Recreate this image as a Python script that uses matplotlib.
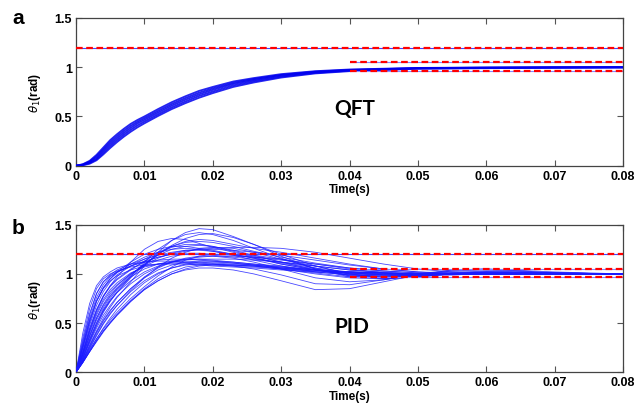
import matplotlib
matplotlib.use("Agg")
import matplotlib.pyplot as plt

# ---------------- data ----------------
T_QFT = [0, .001, .002, .003, .004, .005, .006, .007, .008, .009, .010, .012, .014,
         .016, .018, .020, .023, .026, .030, .035, .040, .050, .060, .070, .080]
QFT_CURVES = [
    [0, .015, .05, .11, .185, .26, .32, .375, .425, .465, .50, .575, .645, .705, .76, .80, .855, .89, .93, .96, .977, .993, .997, .999, 1.0],
    [0, .012, .042, .095, .167, .24, .30, .355, .405, .447, .483, .557, .627, .687, .742, .785, .842, .88, .922, .955, .973, .991, .996, .998, 1.0],
    [0, .010, .035, .08, .15, .22, .28, .335, .385, .43, .466, .54, .61, .67, .725, .77, .83, .87, .915, .95, .97, .99, .995, .998, 1.0],
    [0, .007, .027, .066, .132, .20, .26, .315, .365, .41, .448, .522, .592, .652, .708, .753, .815, .858, .905, .943, .965, .987, .993, .997, .999],
    [0, .005, .02, .055, .115, .18, .24, .295, .345, .39, .43, .505, .575, .635, .69, .737, .80, .845, .895, .937, .96, .984, .99, .995, .998],
]

T_PID = [0, .001, .002, .003, .004, .005, .006, .008, .010, .012, .014, .016, .018,
         .020, .023, .026, .030, .035, .040, .045, .050, .055, .060, .070, .080]
PID_CURVES = [
    [0, .35, .65, .85, .95, 1.0, 1.03, 1.07, 1.09, 1.10, 1.10, 1.10, 1.09, 1.08, 1.07, 1.06, 1.04, 1.02, 1.01, 1.0, 1.0, 1.0, 1.0, 1.0, 1.0],
    [0, .30, .58, .80, .92, .98, 1.02, 1.08, 1.12, 1.14, 1.15, 1.15, 1.14, 1.13, 1.11, 1.09, 1.06, 1.03, 1.01, 1.0, 1.0, 1.0, 1.0, 1.0, 1.0],
    [0, .25, .50, .72, .86, .95, 1.02, 1.12, 1.20, 1.25, 1.28, 1.28, 1.26, 1.24, 1.20, 1.16, 1.10, 1.04, 1.0, .99, .99, 1.0, 1.01, 1.0, 1.0],
    [0, .12, .28, .42, .55, .66, .76, .92, 1.08, 1.22, 1.34, 1.42, 1.46, 1.45, 1.38, 1.30, 1.20, 1.08, 1.0, .96, .97, 1.0, 1.02, 1.01, 1.0],
    [0, .15, .32, .48, .62, .73, .82, .97, 1.12, 1.25, 1.34, 1.40, 1.42, 1.40, 1.34, 1.26, 1.16, 1.05, .98, .97, .99, 1.01, 1.01, 1.0, 1.0],
    [0, .18, .38, .55, .68, .78, .86, .99, 1.10, 1.20, 1.28, 1.33, 1.35, 1.34, 1.30, 1.26, 1.22, 1.16, 1.10, 1.05, 1.02, 1.0, 1.0, 1.0, 1.0],
    [0, .10, .21, .32, .42, .50, .58, .72, .84, .93, 1.0, 1.04, 1.06, 1.06, 1.04, 1.0, .93, .84, .85, .92, .99, 1.04, 1.05, 1.01, 1.0],
    [0, .10, .21, .32, .42, .51, .59, .73, .85, .95, 1.02, 1.07, 1.09, 1.10, 1.08, 1.05, .99, .90, .89, .94, 1.0, 1.04, 1.05, 1.02, 1.0],
    [0, .12, .25, .38, .50, .60, .68, .82, .93, 1.01, 1.06, 1.09, 1.10, 1.10, 1.09, 1.08, 1.05, 1.01, .97, .96, .98, 1.0, 1.01, 1.0, 1.0],
    [0, .20, .42, .60, .74, .84, .91, 1.01, 1.07, 1.10, 1.12, 1.12, 1.12, 1.11, 1.10, 1.09, 1.07, 1.04, 1.02, 1.01, 1.0, 1.0, 1.0, 1.0, 1.0],
    [0, .22, .45, .64, .78, .88, .95, 1.05, 1.12, 1.17, 1.20, 1.21, 1.21, 1.20, 1.19, 1.17, 1.14, 1.10, 1.06, 1.03, 1.01, 1.0, 1.0, 1.0, 1.0],
    [0, .14, .30, .45, .58, .68, .77, .90, 1.00, 1.07, 1.12, 1.15, 1.17, 1.18, 1.18, 1.17, 1.15, 1.10, 1.05, 1.01, .99, .99, 1.0, 1.0, 1.0],
    [0, .28, .55, .76, .89, .97, 1.02, 1.08, 1.13, 1.17, 1.20, 1.23, 1.25, 1.26, 1.27, 1.27, 1.26, 1.22, 1.16, 1.10, 1.05, 1.02, 1.01, 1.0, 1.0],
    [0, .10, .22, .34, .45, .55, .64, .79, .91, 1.00, 1.06, 1.10, 1.12, 1.12, 1.11, 1.09, 1.06, 1.02, .99, .98, .99, 1.0, 1.0, 1.0, 1.0],
    [0, .16, .34, .50, .64, .75, .84, .98, 1.10, 1.19, 1.25, 1.28, 1.29, 1.28, 1.24, 1.19, 1.12, 1.04, .99, .97, .98, 1.0, 1.01, 1.0, 1.0],
    [0, .24, .48, .68, .82, .92, .99, 1.08, 1.15, 1.22, 1.28, 1.32, 1.33, 1.32, 1.28, 1.23, 1.17, 1.11, 1.06, 1.03, 1.01, 1.0, 1.0, 1.0, 1.0],
    [0, .10, .21, .31, .41, .50, .58, .72, .84, .93, 1.0, 1.05, 1.08, 1.09, 1.09, 1.08, 1.05, 1.0, .96, .95, .97, 1.0, 1.02, 1.01, 1.0],
    [0, .19, .40, .58, .72, .82, .89, 1.0, 1.08, 1.14, 1.18, 1.20, 1.20, 1.19, 1.17, 1.15, 1.12, 1.08, 1.04, 1.02, 1.0, 1.0, 1.0, 1.0, 1.0],
    [0, .13, .27, .41, .53, .63, .71, .85, .96, 1.04, 1.09, 1.12, 1.13, 1.13, 1.12, 1.10, 1.08, 1.04, 1.01, .99, .99, 1.0, 1.0, 1.0, 1.0],
    [0, .32, .60, .80, .92, .99, 1.04, 1.10, 1.15, 1.19, 1.22, 1.24, 1.24, 1.23, 1.20, 1.16, 1.11, 1.05, 1.01, .99, .99, 1.0, 1.0, 1.0, 1.0],
    [0, .11, .23, .34, .44, .53, .61, .75, .87, .98, 1.07, 1.14, 1.18, 1.20, 1.20, 1.19, 1.15, 1.08, 1.0, .96, .97, 1.0, 1.02, 1.01, 1.0],
    [0, .17, .36, .53, .66, .77, .85, .97, 1.05, 1.10, 1.13, 1.15, 1.15, 1.14, 1.12, 1.10, 1.07, 1.04, 1.02, 1.01, 1.0, 1.0, 1.0, 1.0, 1.0],
    [0, .11, .24, .37, .49, .59, .68, .83, .96, 1.07, 1.16, 1.22, 1.26, 1.27, 1.26, 1.22, 1.15, 1.06, .98, .95, .97, 1.01, 1.03, 1.01, 1.0],
    [0, .26, .52, .72, .85, .93, .98, 1.04, 1.08, 1.10, 1.11, 1.11, 1.10, 1.09, 1.08, 1.07, 1.05, 1.03, 1.02, 1.01, 1.0, 1.0, 1.0, 1.0, 1.0],
    [0, .20, .42, .62, .77, .88, .97, 1.12, 1.25, 1.33, 1.36, 1.35, 1.31, 1.27, 1.22, 1.17, 1.10, 1.04, 1.0, .99, 1.0, 1.0, 1.0, 1.0, 1.0],
    [0, .40, .70, .88, .97, 1.02, 1.06, 1.10, 1.12, 1.13, 1.13, 1.12, 1.11, 1.10, 1.09, 1.08, 1.06, 1.04, 1.02, 1.01, 1.0, 1.0, 1.0, 1.0, 1.0],
    [0, .14, .31, .47, .61, .72, .81, .96, 1.09, 1.20, 1.29, 1.36, 1.40, 1.41, 1.37, 1.30, 1.18, 1.05, .97, .96, .99, 1.02, 1.02, 1.0, 1.0],
    [0, .18, .37, .55, .69, .80, .88, 1.0, 1.09, 1.16, 1.21, 1.24, 1.25, 1.25, 1.24, 1.22, 1.19, 1.14, 1.09, 1.05, 1.02, 1.01, 1.0, 1.0, 1.0],
    [0, .12, .26, .40, .52, .62, .71, .85, .97, 1.06, 1.12, 1.16, 1.18, 1.18, 1.16, 1.12, 1.05, .96, .92, .94, .99, 1.03, 1.04, 1.01, 1.0],
    [0, .27, .53, .73, .86, .95, 1.01, 1.10, 1.17, 1.22, 1.25, 1.26, 1.25, 1.23, 1.19, 1.14, 1.08, 1.02, .99, .98, .99, 1.0, 1.0, 1.0, 1.0],
    [0, .15, .33, .50, .63, .73, .81, .93, 1.02, 1.08, 1.12, 1.14, 1.15, 1.15, 1.15, 1.14, 1.12, 1.08, 1.04, 1.01, .99, .99, 1.0, 1.0, 1.0],
    [0, .21, .44, .63, .77, .87, .94, 1.04, 1.13, 1.21, 1.27, 1.30, 1.30, 1.28, 1.23, 1.18, 1.12, 1.06, 1.02, 1.0, 1.0, 1.0, 1.0, 1.0, 1.0],
]

LIMIT_HIGH = 1.2
BAND_UP = 1.05
BAND_LO = 0.965
BAND_START = 0.04
T_END = 0.08

X_TICKS = [0, 0.01, 0.02, 0.03, 0.04, 0.05, 0.06, 0.07, 0.08]
X_LABELS = ["0", "0.01", "0.02", "0.03", "0.04", "0.05", "0.06", "0.07", "0.08"]
Y_TICKS = [0, 0.5, 1, 1.5]
Y_LABELS = ["0", "0.5", "1", "1.5"]

# ---------------- figure ----------------
fig = plt.figure(figsize=(6.36, 4.10), dpi=100)
ax_a = fig.add_axes([0.1195, 0.5934, 0.8601, 0.3603])
ax_b = fig.add_axes([0.1195, 0.0895, 0.8601, 0.3600])

tick_font = dict(family="Liberation Sans", weight="bold", size=9)


def style(ax):
    ax.set_xlim(0, 0.08)
    ax.set_ylim(0, 1.5)
    ax.set_xticks(X_TICKS)
    ax.set_xticklabels(X_LABELS, fontdict=tick_font)
    ax.set_yticks(Y_TICKS)
    ax.set_yticklabels(Y_LABELS, fontdict=tick_font)
    ax.tick_params(direction="in", length=4, width=0.8, color="#555555",
                   top=True, right=True, pad=3)
    for s in ax.spines.values():
        s.set_color("#444444")
        s.set_linewidth(0.9)
    ax.set_xlabel("Time(s)", fontdict=dict(family="Liberation Sans", weight="bold", size=8.5),
                  labelpad=1)
    ax.set_ylabel(r"$\theta_1$(rad)", fontdict=dict(family="Liberation Sans", weight="bold", size=8.5),
                  labelpad=8)


def limits(ax):
    ax.plot([0, T_END], [LIMIT_HIGH, LIMIT_HIGH], color="#4444ff", lw=0.8, zorder=4)
    ax.plot([0, T_END], [LIMIT_HIGH, LIMIT_HIGH], color="red", lw=1.6, ls=(0, (3.0, 1.6)), zorder=5)
    for v in (BAND_UP, BAND_LO):
        ax.plot([BAND_START, T_END], [v, v], color="#8888ff", lw=0.8, zorder=4)
        ax.plot([BAND_START, T_END], [v, v], color="red", lw=1.6, ls=(0, (3.0, 1.6)), zorder=5)


for c in QFT_CURVES:
    ax_a.plot(T_QFT, c, color="#0000ee", lw=1.3, alpha=0.85, zorder=3)
limits(ax_a)
style(ax_a)
ax_a.text(0.0378, 0.59, "QFT", fontdict=dict(family="Lato", weight="bold", size=15),
          ha="left", va="center")

for c in PID_CURVES:
    ax_b.plot(T_PID, c, color="#1a1aff", lw=0.6, alpha=0.8, zorder=3)
limits(ax_b)
style(ax_b)
ax_b.text(0.0378, 0.47, "PID", fontdict=dict(family="Lato", weight="bold", size=15),
          ha="left", va="center")

fig.text(18 / 636, 1 - 18 / 410, "a", fontdict=dict(family="Liberation Sans", weight="bold", size=15),
         ha="center", va="center")
fig.text(18 / 636, 1 - 228 / 410, "b", fontdict=dict(family="Liberation Sans", weight="bold", size=15),
         ha="center", va="center")

fig.savefig("out.png", dpi=100)
